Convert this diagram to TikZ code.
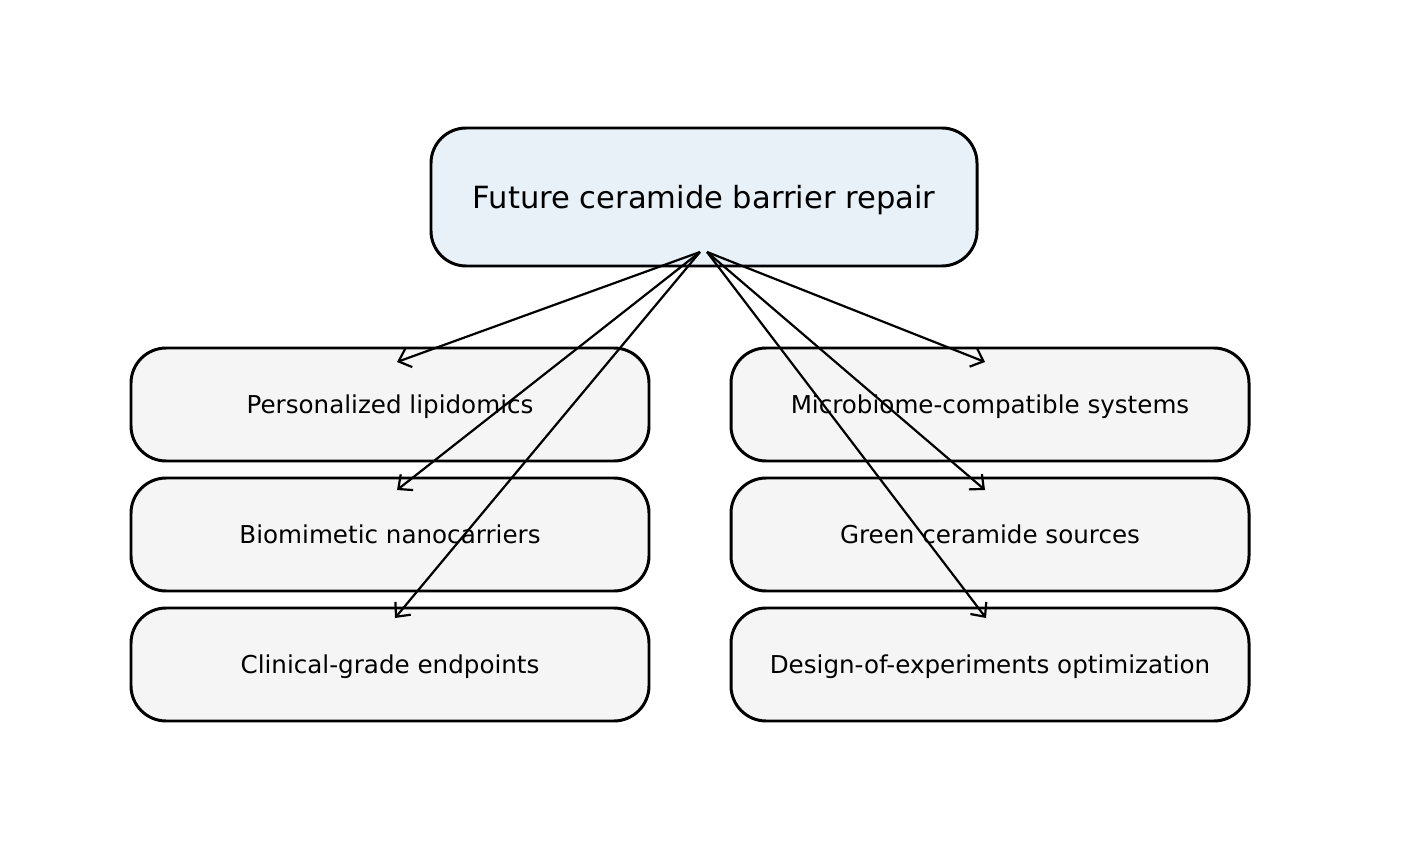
\documentclass[tikz,border=0pt]{standalone}
\usepackage{fontspec}
\setmainfont{DejaVu Sans}
\usetikzlibrary{arrows.meta}

\definecolor{rootfill}{HTML}{E8F1F8}
\definecolor{leaffill}{HTML}{F5F5F5}

\begin{document}
\begin{tikzpicture}[x=0.02cm,y=-0.02cm,
    box/.style={draw,line width=1.7pt,rounded corners=20pt,inner sep=0pt,text depth=0pt},
    root/.style={box,fill=rootfill,minimum width=546*0.02cm,minimum height=138*0.02cm,font=\fontsize{17.4}{19}\selectfont},
    leaf/.style={box,fill=leaffill,minimum width=518*0.02cm,minimum height=113*0.02cm,font=\fontsize{14}{16}\selectfont},
    link/.style={line width=1.25pt,-{Straight Barb[length=2.2mm,width=4mm]}}]
  \useasboundingbox (0,0) rectangle (1407,858);
  \node[root] (r) at (704,197) {Future ceramide barrier repair};
  \node[leaf] (l1) at (390,404.5) {Personalized lipidomics};
  \node[leaf] (l2) at (390,534.5) {Biomimetic nanocarriers};
  \node[leaf] (l3) at (390,664.5) {Clinical-grade endpoints};
  \node[leaf] (r1) at (990,404.5) {Microbiome-compatible systems};
  \node[leaf] (r2) at (990,534.5) {Green ceramide sources};
  \node[leaf] (r3) at (990,664.5) {Design-of-experiments optimization};
  % arrow anchors
  \coordinate (rl) at (700,252);
  \coordinate (rr) at (707,252);
  \coordinate (l1t) at (397,362);
  \coordinate (l2t) at (397,490);
  \coordinate (l3t) at (395,618);
  \coordinate (r1t) at (985,362);
  \coordinate (r2t) at (985,490);
  \coordinate (r3t) at (986,618);
  \path[link]
    (rl) edge (l1t)
         edge (l2t)
         edge (l3t)
    (rr) edge (r1t)
         edge (r2t)
         edge (r3t);
\end{tikzpicture}
\end{document}
